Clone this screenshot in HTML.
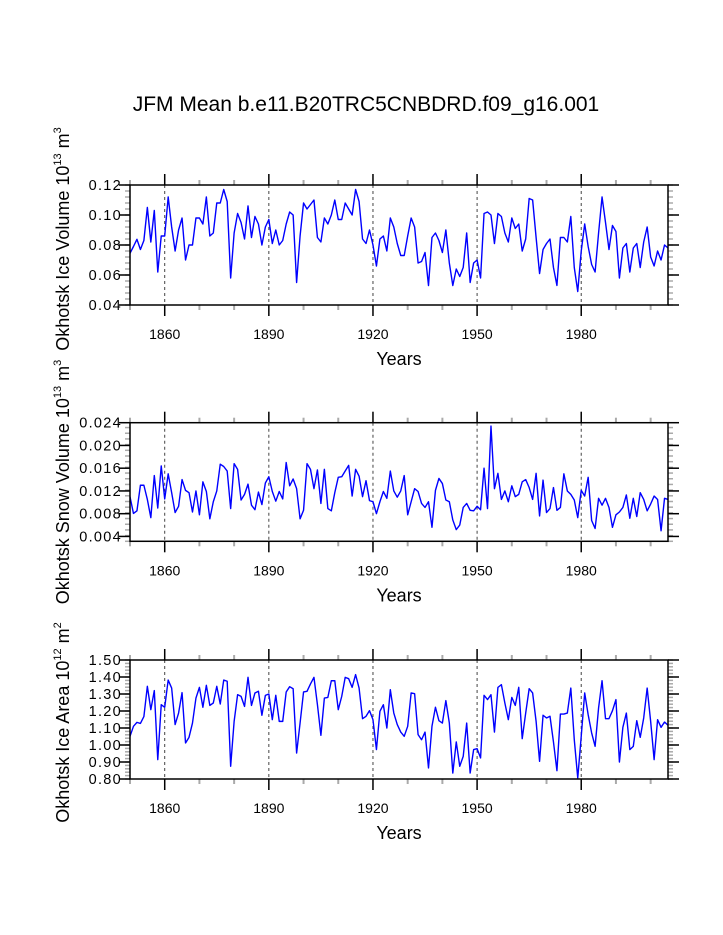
<!DOCTYPE html>
<html><head><meta charset="utf-8"><style>
body{margin:0;background:#fff;}
svg{display:block;font-family:"Liberation Sans",Arial,sans-serif;}
</style></head><body>
<svg id="chart" width="723" height="935" viewBox="0 0 723 935" xmlns="http://www.w3.org/2000/svg">
<rect width="723" height="935" fill="#fff"/>
<text x="366" y="111" font-size="21" text-anchor="middle">JFM Mean b.e11.B20TRC5CNBDRD.f09_g16.001</text>
</svg>
<script>
const years = [];
for (let y = 1850; y <= 2005; y++) years.push(y);
const xTicks = [1860, 1890, 1920, 1950, 1980];
const iceVolume = [0.0745,0.079,0.0838,0.077,0.083,0.105,0.082,0.103,0.062,0.086,0.086,0.112,0.092,0.076,0.090,0.098,0.070,0.080,0.080,0.098,0.098,0.094,0.112,0.086,0.088,0.108,0.108,0.117,0.109,0.058,0.088,0.101,0.095,0.084,0.106,0.085,0.099,0.094,0.080,0.092,0.097,0.081,0.090,0.080,0.083,0.094,0.102,0.100,0.055,0.086,0.108,0.104,0.107,0.110,0.085,0.082,0.098,0.094,0.100,0.110,0.097,0.097,0.108,0.104,0.100,0.117,0.109,0.084,0.081,0.090,0.080,0.066,0.084,0.086,0.076,0.098,0.092,0.081,0.073,0.073,0.086,0.098,0.092,0.068,0.069,0.075,0.053,0.085,0.088,0.083,0.075,0.090,0.068,0.053,0.064,0.059,0.065,0.088,0.055,0.068,0.070,0.058,0.101,0.102,0.100,0.081,0.101,0.099,0.088,0.082,0.098,0.091,0.094,0.076,0.084,0.111,0.110,0.085,0.061,0.077,0.081,0.084,0.065,0.053,0.085,0.085,0.082,0.099,0.065,0.049,0.076,0.094,0.079,0.067,0.062,0.088,0.112,0.095,0.077,0.093,0.089,0.058,0.078,0.081,0.062,0.078,0.081,0.065,0.082,0.092,0.072,0.066,0.076,0.070,0.080,0.078];
const snowVolume = [10.98,8.04,8.5,13.0,13.0,10.5,7.3,14.7,9.0,16.4,10.6,15.0,11.7,8.2,9.3,14.0,12.1,11.7,8.3,12.0,7.8,13.6,11.9,7.1,10.1,12.0,16.7,16.3,15.5,8.9,16.8,15.8,10.4,11.4,13.2,9.5,8.7,11.8,9.6,13.4,14.5,11.9,10.2,11.9,10.6,17.0,12.9,14.1,12.4,7.1,8.6,16.8,15.8,12.4,15.7,9.8,15.8,8.9,8.5,11.7,14.4,14.5,15.5,16.5,11.1,15.8,14.6,11.0,13.8,10.3,10.1,8.0,10.1,11.9,10.7,15.5,12.0,10.9,12.0,14.7,7.8,10.1,12.4,11.9,9.8,9.1,10.1,5.6,12.1,14.2,13.3,10.4,10.1,6.9,5.2,6.0,9.1,9.8,8.6,8.5,9.3,8.7,16.0,8.9,23.4,12.4,15.1,10.5,12.0,10.1,12.9,11.0,11.4,13.6,14.0,12.6,10.5,15.1,7.6,13.9,8.2,8.9,12.6,8.6,9.1,15.0,12.0,11.4,10.4,7.3,12.1,11.1,14.4,6.8,5.4,10.7,9.5,10.7,9.1,5.6,7.8,8.3,9.1,11.3,7.2,10.7,7.5,11.7,10.5,8.5,9.7,11.1,10.5,5.0,10.7,10.5].map(v => v / 1000);
const iceArea = [1.051,1.110,1.133,1.127,1.167,1.345,1.208,1.320,0.914,1.237,1.222,1.382,1.335,1.120,1.188,1.308,1.012,1.045,1.129,1.276,1.339,1.222,1.351,1.233,1.247,1.345,1.241,1.382,1.375,0.875,1.139,1.296,1.286,1.227,1.398,1.233,1.306,1.316,1.175,1.292,1.300,1.149,1.292,1.139,1.139,1.312,1.343,1.331,0.953,1.129,1.312,1.316,1.359,1.398,1.237,1.057,1.276,1.280,1.378,1.378,1.208,1.286,1.398,1.390,1.339,1.414,1.335,1.155,1.169,1.202,1.149,0.973,1.198,1.237,1.100,1.325,1.188,1.120,1.076,1.051,1.110,1.306,1.302,1.061,1.031,1.076,0.865,1.110,1.222,1.143,1.129,1.261,1.129,0.835,1.018,0.875,0.933,1.129,0.835,0.973,0.978,0.924,1.292,1.267,1.296,1.076,1.339,1.355,1.247,1.149,1.280,1.233,1.339,1.037,1.188,1.331,1.306,1.139,0.904,1.175,1.159,1.169,1.018,0.849,1.182,1.182,1.188,1.335,1.031,0.806,1.051,1.306,1.178,1.071,0.992,1.218,1.378,1.155,1.155,1.202,1.267,0.900,1.104,1.188,0.973,0.992,1.143,1.045,1.159,1.335,1.139,0.914,1.149,1.104,1.135,1.116];
const ticks1 = ["0.04","0.06","0.08","0.10","0.12"];
const ticks2 = ["0.004","0.008","0.012","0.016","0.020","0.024"];
const ticks3 = ["0.80","0.90","1.00","1.10","1.20","1.30","1.40","1.50"];

const NS = "http://www.w3.org/2000/svg";
const svg = document.getElementById("chart");
const X0 = 130, X1 = 668, XMIN = 1850, XMAX = 2005;
function xs(v){ return X0 + (v - XMIN) / (XMAX - XMIN) * (X1 - X0); }
function mk(tag, attrs, parent){
  const e = document.createElementNS(NS, tag);
  for (const k in attrs) e.setAttribute(k, attrs[k]);
  (parent || svg).appendChild(e);
  return e;
}

function panel(id, top, bottom, ymin, ymax, data, ticks, minorStep, labelParts, labelShift){
  const g = mk("g", {});
  
  
  const ys = v => bottom - (v - ymin) / (ymax - ymin) * (bottom - top);
  xTicks.forEach(t => {
    const l = mk("line", {x1: xs(t), x2: xs(t), y1: top, y2: bottom, stroke: "#444", "stroke-width": 1, "stroke-dasharray": "3,3"}, g);
    
    
  });
  for (let t = 1850; t <= 2005; t += 10) {
    const major = xTicks.includes(t);
    const len = major ? 11 : 5;
    const col = major ? "#000" : "#aaa";
    mk("line", {x1: xs(t), x2: xs(t), y1: bottom, y2: bottom + len, stroke: col, "stroke-width": major ? 1.5 : 2}, g);
    mk("line", {x1: xs(t), x2: xs(t), y1: top, y2: top - len, stroke: col, "stroke-width": major ? 1.5 : 2}, g);
  }
  xTicks.forEach(t => {
    const tx = mk("text", {x: xs(t), y: bottom + 34, "font-size": 14, "text-anchor": "middle"}, g);
    tx.textContent = t;
    
    
  });
  for (let v = ymin; v <= ymax + 1e-9; v += minorStep) {
    const y = ys(v);
    if (y < top - 0.5 || y > bottom + 0.5) continue;
    mk("line", {x1: X0, x2: X0 - 5, y1: y, y2: y, stroke: "#aaa", "stroke-width": 1.5}, g);
    mk("line", {x1: X1, x2: X1 + 5, y1: y, y2: y, stroke: "#aaa", "stroke-width": 1.5}, g);
  }
  ticks.forEach(s => {
    const y = ys(parseFloat(s));
    mk("line", {x1: X0, x2: X0 - 11, y1: y, y2: y, stroke: "#000", "stroke-width": 1.5}, g);
    mk("line", {x1: X1, x2: X1 + 11, y1: y, y2: y, stroke: "#000", "stroke-width": 1.5}, g);
    const tx = mk("text", {x: X0 - 8, y: y + 5, "font-size": 14.5, "letter-spacing": 1.3, "text-anchor": "end"}, g);
    tx.textContent = s;
    
    
  });
  const pts = data.map((v, i) => xs(years[i]).toFixed(2) + "," + ys(v).toFixed(2)).join(" ");
  const pl = mk("polyline", {points: pts, fill: "none", stroke: "#0000ff", "stroke-width": 1.4, "stroke-linejoin": "round"}, g);
  
  
  const fr = mk("rect", {x: X0, y: top, width: X1 - X0, height: bottom - top, fill: "none", stroke: "#000", "stroke-width": 1.5}, g);
  
  
  const xt = mk("text", {x: 399, y: bottom + 60, "font-size": 18, "text-anchor": "middle"}, g);
  xt.textContent = "Years";
  
  
  const cy = (top + bottom) / 2 + labelShift;
  const yt = mk("text", {x: 0, y: 0, "font-size": 18, "text-anchor": "middle", transform: "translate(69," + cy + ") rotate(-90)"}, g);
  
  
  labelParts.forEach(p => {
    const ts = mk("tspan", {}, yt);
    if (p.sup) { ts.setAttribute("font-size", 11); ts.setAttribute("dy", -8); }
    else if (p.after) { ts.setAttribute("dy", 8); }
    ts.textContent = p.t;
  });
}

panel("ice-volume", 185, 305, 0.04, 0.12, iceVolume, ticks1, 0.004,
  [{t:"Okhotsk Ice Volume 10"},{t:"13",sup:1},{t:" m",after:1},{t:"3",sup:1}], -6);
panel("snow-volume", 422.7, 541.3, 0.024 - 118.6/5687, 0.024, snowVolume, ticks2, 0.001,
  [{t:"Okhotsk Snow Volume 10"},{t:"13",sup:1},{t:" m",after:1},{t:"3",sup:1}], 0);
panel("ice-area", 660, 779, 0.8, 1.5, iceArea, ticks3, 0.02,
  [{t:"Okhotsk Ice Area 10"},{t:"12",sup:1},{t:" m",after:1},{t:"2",sup:1}], 3);
</script>
</body></html>
